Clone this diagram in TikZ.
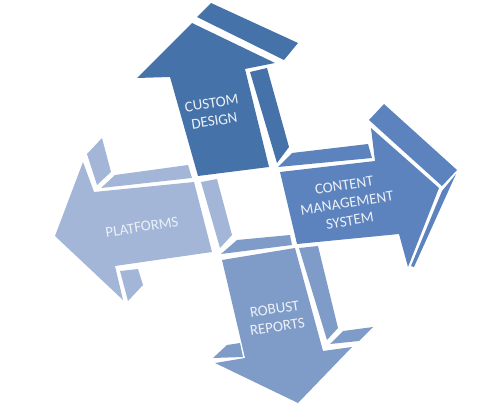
\documentclass[tikz,border=0pt]{standalone}
\usepackage{fontspec}
\setmainfont{Carlito}
\definecolor{cUp}{RGB}{70,114,170}
\definecolor{cRight}{RGB}{92,131,189}
\definecolor{cLeft}{RGB}{163,182,215}
\definecolor{cDown}{RGB}{127,156,201}
\definecolor{cText}{RGB}{236,241,248}
\tikzset{
  lbl/.style={text=cText, font=\fontsize{15}{18}\selectfont, align=center, rotate=9, inner sep=0pt},
  face/.style={fill=#1, draw=none}
}
\begin{document}
\begin{tikzpicture}[x=1pt,y=-1pt]
\useasboundingbox (0,0) rectangle (500,417);
% ---------- up arrow (CUSTOM DESIGN)
\fill[face=cUp] (192,23) -- (275,63) -- (245,69) -- (269,167) -- (198,176) -- (170,77) -- (137,78) -- cycle;
\fill[face=cUp] (197,17) -- (211,3) -- (298,43) -- (284,60) -- cycle;
\fill[face=cUp] (250,72) -- (267,68) -- (289,147) -- (277,163) -- cycle;
% ---------- right arrow (CMS)
\fill[face=cRight] (280,172) -- (375,161) -- (371,128) -- (439,188) -- (408,267) -- (399,234) -- (297,244) -- cycle;
\fill[face=cRight] (278,167) -- (292,153) -- (368,144) -- (372,158) -- cycle;
\fill[face=cRight] (369,120) -- (384,104) -- (457,170) -- (442,186) -- cycle;
\fill[face=cRight] (442,191) -- (456,174) -- (414,267) -- (411,266) -- cycle;
% ---------- left arrow (PLATFORMS)
\fill[face=cLeft] (55,236) -- (83,162) -- (94,192) -- (194,182) -- (212,252) -- (115,266) -- (123,300) -- cycle;
\fill[face=cLeft] (87,154) -- (102,138) -- (111,172) -- (97,185) -- cycle;
\fill[face=cLeft] (101,188) -- (115,175) -- (188,165) -- (192,178) -- cycle;
\fill[face=cLeft] (201,182) -- (217,179) -- (232,235) -- (220,248) -- cycle;
\fill[face=cLeft] (120,271) -- (138,269) -- (143,285) -- (128,301) -- cycle;
% ---------- down arrow (ROBUST REPORTS)
\fill[face=cDown] (222,260) -- (295,248) -- (323,351) -- (352,347) -- (298,403) -- (215,363) -- (245,358) -- cycle;
\fill[face=cDown] (221,254) -- (237,240) -- (290,235) -- (292,245) -- cycle;
\fill[face=cDown] (299,248) -- (318,246) -- (338,328) -- (327,340) -- cycle;
\fill[face=cDown] (330,344) -- (343,331) -- (373,327) -- (359,341) -- cycle;
\fill[face=cDown] (213,358) -- (227,345) -- (240,343) -- (243,357) -- cycle;
% ---------- labels
\node[lbl] (custom) at (213,112) {CUSTOM\\DESIGN};
\node[lbl] (cms) at (347,203) {CONTENT\\MANAGEMENT\\SYSTEM};
\node[lbl] (plat) at (142,227) {PLATFORMS};
\node[lbl] (robust) at (276,318) {ROBUST\\REPORTS};
\end{tikzpicture}
\end{document}
